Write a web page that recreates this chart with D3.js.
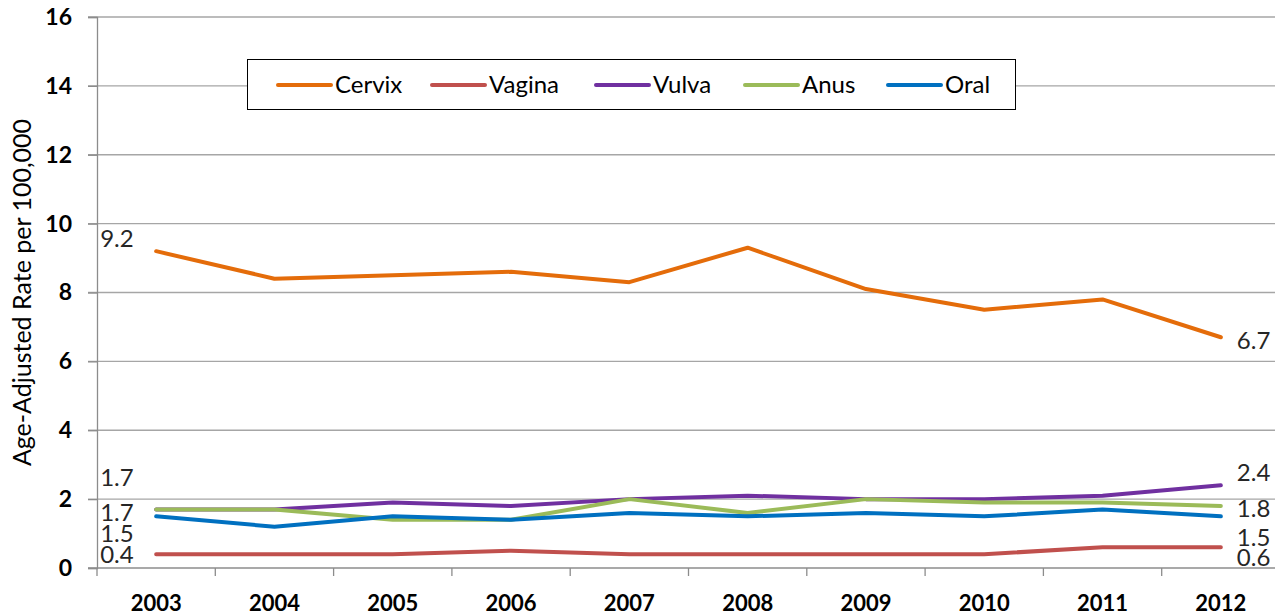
<!DOCTYPE html>
<html>
<head>
<meta charset="utf-8">
<script src="https://cdn.jsdelivr.net/npm/d3@7/dist/d3.min.js"></script>
<style>
  body { margin: 0; background: #fff; }
  svg { display: block; font-family: Lato, "Open Sans", sans-serif; }
</style>
</head>
<body>
<script>
"use strict";

// data
let years = ["2003", "2004", "2005", "2006", "2007", "2008", "2009", "2010", "2011", "2012"];
let cervix = [9.2, 8.4, 8.5, 8.6, 8.3, 9.3, 8.1, 7.5, 7.8, 6.7];
let vagina = [0.4, 0.4, 0.4, 0.5, 0.4, 0.4, 0.4, 0.4, 0.6, 0.6];
let vulva = [1.7, 1.7, 1.9, 1.8, 2.0, 2.1, 2.0, 2.0, 2.1, 2.4];
let anus = [1.7, 1.7, 1.4, 1.4, 2.0, 1.6, 2.0, 1.9, 1.9, 1.8];
let oral = [1.5, 1.2, 1.5, 1.4, 1.6, 1.5, 1.6, 1.5, 1.7, 1.5];
let seriesNames = ["Cervix", "Vagina", "Vulva", "Anus", "Oral"];
let yTicks = [0, 2, 4, 6, 8, 10, 12, 14, 16];

let seriesValues = [cervix, vagina, vulva, anus, oral];
let colors = ["#E46C0A", "#C0504D", "#7030A0", "#9BBB59", "#0070C0"];
// vertical nudges for the first / last point labels (so they don't collide)
let firstNudge = [-13, 0, -32, 3, 17];
let lastNudge = [3, 10, -13, 3, 21];

let w = 1275;
let h = 615;
let plotLeft = 97, plotTop = 17, plotBottom = 568, plotRight = 1280;

let svg = d3.select("body")
    .append("svg")
    .attr("width", w)
    .attr("height", h);

let x = d3.scaleBand().domain(years).range([plotLeft, plotRight]);
let y = d3.scaleLinear().domain([0, 16]).range([plotBottom, plotTop]);

//gridlines
svg.append("g")
    .selectAll("line")
    .data(yTicks.filter(function (d) { return d > 0; }))
    .enter()
    .append("line")
    .attr("x1", plotLeft - 9)
    .attr("x2", w)
    .attr("y1", function (d) { return y(d); })
    .attr("y2", function (d) { return y(d); })
    .style("stroke", "#a6a6a6")
    .style("stroke-width", 1.3);

//y axis
let yAxis = svg.append("g")
    .attr("transform", "translate(" + plotLeft + ",0)")
    .call(d3.axisLeft(y).tickValues(yTicks).tickSize(9).tickPadding(16));
yAxis.select(".domain").style("stroke", "#8c8c8c").style("stroke-width", 1.3);
yAxis.selectAll(".tick line").style("stroke", "#8c8c8c").style("stroke-width", 1.3);
yAxis.selectAll("text")
    .style("font-size", "23px")
    .style("font-weight", "bold")
    .style("fill", "#000")
    .style("font-family", "Lato, sans-serif");

//x axis, ticks between the categories
let xAxis = svg.append("g")
    .attr("transform", "translate(0," + plotBottom + ")");
xAxis.append("line")
    .attr("x1", plotLeft - 9)
    .attr("x2", w)
    .style("stroke", "#8c8c8c")
    .style("stroke-width", 1.3);
xAxis.selectAll(".tk")
    .data(years)
    .enter()
    .append("line")
    .attr("class", "tk")
    .attr("x1", function (d) { return x(d); })
    .attr("x2", function (d) { return x(d); })
    .attr("y1", 0)
    .attr("y2", 8)
    .style("stroke", "#8c8c8c")
    .style("stroke-width", 1.3);
xAxis.selectAll("text")
    .data(years)
    .enter()
    .append("text")
    .attr("x", function (d) { return x(d) + x.bandwidth() / 2; })
    .attr("y", 43)
    .attr("text-anchor", "middle")
    .style("font-size", "22px")
    .style("font-weight", "bold")
    .text(function (d) { return d; });

//axis title
svg.append("text")
    .attr("transform", "translate(31," + ((plotTop + plotBottom) / 2) + ") rotate(-90)")
    .attr("text-anchor", "middle")
    .style("font-size", "25px")
    .style("fill", "#000")
    .text("Age-Adjusted Rate per 100,000");

//lines
let line = d3.line()
    .x(function (d, i) { return x(years[i]) + x.bandwidth() / 2; })
    .y(function (d) { return y(d); });

svg.append("g")
    .selectAll("path")
    .data(seriesValues)
    .enter()
    .append("path")
    .attr("d", line)
    .style("fill", "none")
    .style("stroke", function (d, i) { return colors[i]; })
    .style("stroke-width", 4)
    .style("stroke-linecap", "round")
    .style("stroke-linejoin", "round");

//first and last value labels
let firstX = x(years[0]) + x.bandwidth() / 2;
let lastX = x(years[years.length - 1]) + x.bandwidth() / 2;
let labels = svg.append("g")
    .style("font-size", "24px")
    .style("fill", "#262626");
seriesValues.forEach(function (vals, i) {
    labels.append("text")
        .attr("x", firstX - 56)
        .attr("y", y(vals[0]) + firstNudge[i])
        .attr("dy", "0.35em")
        .text(d3.format(".1f")(vals[0]));
    labels.append("text")
        .attr("x", lastX + 16)
        .attr("y", y(vals[vals.length - 1]) + lastNudge[i])
        .attr("dy", "0.35em")
        .text(d3.format(".1f")(vals[vals.length - 1]));
});

//legend
let legend = svg.append("g");
legend.append("rect")
    .attr("x", 247.5)
    .attr("y", 59.5)
    .attr("width", 768)
    .attr("height", 50)
    .style("fill", "#fff")
    .style("stroke", "#000")
    .style("stroke-width", 1);
let legendX = [278, 432, 596, 745, 888];
let items = legend.selectAll(".item")
    .data(seriesNames)
    .enter()
    .append("g")
    .attr("class", "item")
    .attr("transform", function (d, i) { return "translate(" + legendX[i] + ",85)"; });
items.append("line")
    .attr("x1", 0)
    .attr("x2", 53)
    .style("stroke", function (d, i) { return colors[i]; })
    .style("stroke-width", 4)
    .style("stroke-linecap", "round");
items.append("text")
    .attr("x", 57)
    .attr("dy", "0.35em")
    .style("font-size", "24px")
    .style("fill", "#000")
    .text(function (d) { return d; });
</script>
</body>
</html>
